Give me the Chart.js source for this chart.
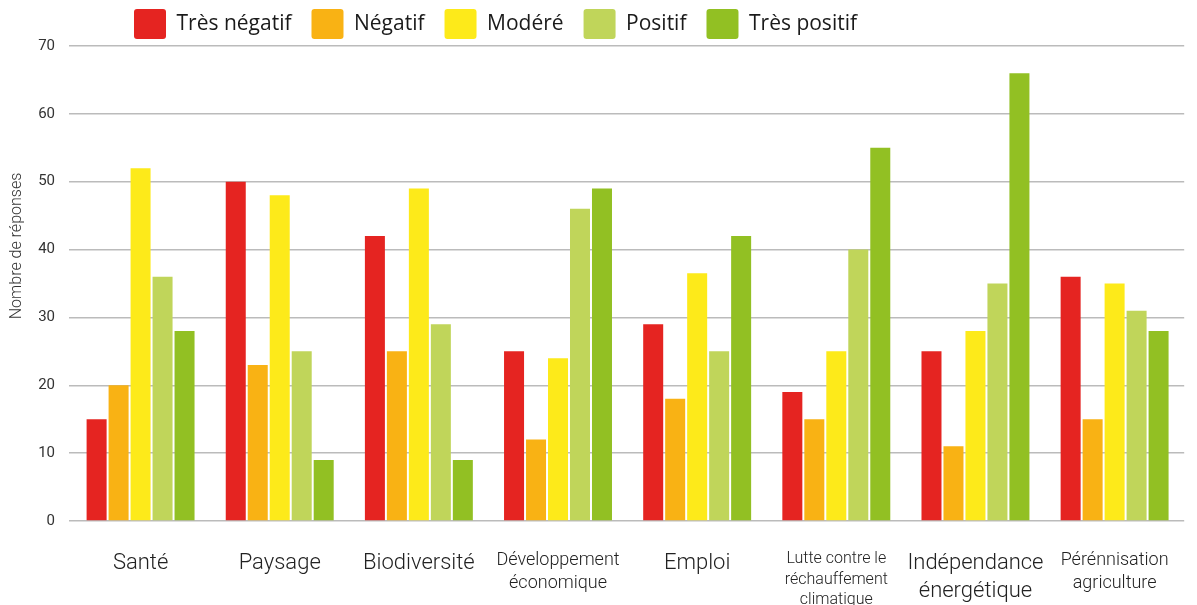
<!DOCTYPE html>
<html>
<head>
<meta charset="utf-8">
<script src="https://cdn.jsdelivr.net/npm/chart.js@4/dist/chart.umd.min.js"></script>
<style>
  html,body{margin:0;padding:0;background:#fff;}
  #wrap{width:1197px;height:605px;position:relative;}
</style>
</head>
<body>
<div id="wrap"><canvas id="c" width="1197" height="605"></canvas></div>
<script>
// ---- data ----
const categories = ['Santé','Paysage','Biodiversité',['Développement','économique'],'Emploi',['Lutte contre le','réchauffement','climatique'],['Indépendance','énergétique'],['Pérénnisation','agriculture']];
const seriesNames = ['Très négatif','Négatif','Modéré','Positif','Très positif'];
const tresNegatif = [15,50,42,25,29,19,25,36];
const negatif     = [20,23,25,12,18,15,11,15];
const modere      = [52,48,49,24,36.5,25,28,35];
const positif     = [36,25,29,46,25,40,35,31];
const tresPositif = [28,9,9,49,42,55,66,28];
const yTicks = [0,10,20,30,40,50,60,70];
const yTitle = 'Nombre de réponses';

// ---- styles ----
const colors = ['#e52421','#f9b214','#fdea1a','#c0d55a','#92c023'];
const xFontSizes = [22,22,22,18,22,16,22,18];

const legendPlace = {
  id:'legendPlace',
  afterLayout(chart){
    const lg = chart.legend;
    if(!lg) return;
    const p = lg.options.labels.padding;
    lg.left = 134 - p;
    lg.top = 9 - p;
  }
};
const yTitlePlugin = {
  id:'yTitlePlugin',
  afterDraw(chart){
    const ctx = chart.ctx;
    ctx.save();
    ctx.translate(17, 246);
    ctx.rotate(-Math.PI/2);
    ctx.font = '300 16px Roboto';
    ctx.fillStyle = '#333';
    ctx.textAlign = 'center';
    ctx.textBaseline = 'middle';
    ctx.fillText(yTitle, 0, 0);
    ctx.restore();
  }
};

const values = [tresNegatif, negatif, modere, positif, tresPositif];
new Chart(document.getElementById('c'), {
  type:'bar',
  data:{
    labels: categories,
    datasets: values.map((v,i)=>({
      label: seriesNames[i],
      data: v,
      backgroundColor: colors[i],
      borderColor: colors[i],
      borderWidth: 0,
      barPercentage: 0.91,
      categoryPercentage: 0.79
    }))
  },
  options:{
    responsive:false,
    animation:false,
    layout:{padding:{left:0,right:7,top:0,bottom:0}},
    plugins:{
      legend:{
        position:'top',
        align:'start',
        maxHeight:46,
        labels:{
          boxWidth:32, boxHeight:30, padding:20,
          useBorderRadius:true, borderRadius:3,
          color:'#1a1a1a',
          font:{family:'Open Sans', size:21}
        }
      },
      tooltip:{enabled:false}
    },
    scales:{
      x:{
        grid:{display:false, drawTicks:false},
        border:{display:false},
        ticks:{
          autoSkip:false, maxRotation:0, minRotation:0,
          padding:28,
          color:'#222',
          font:(ctx)=>({family:'Roboto', weight:'300', size:xFontSizes[ctx.index] || 20, lineHeight:1.28})
        },
        afterFit:(s)=>{ s.height = 84; }
      },
      y:{
        min:0, max:70,
        z:1,
        afterBuildTicks:(s)=>{ s.ticks = yTicks.map(v=>({value:v})); },
        grid:{color:'rgba(175,175,175,0.85)', lineWidth:1.5, drawTicks:true, tickLength:2},
        border:{display:false},
        ticks:{padding:14, color:'#333', font:{family:'Roboto', size:15}},
        afterFit:(s)=>{ s.width = 71; }
      }
    }
  },
  plugins:[legendPlace, yTitlePlugin]
});
</script>
</body>
</html>
